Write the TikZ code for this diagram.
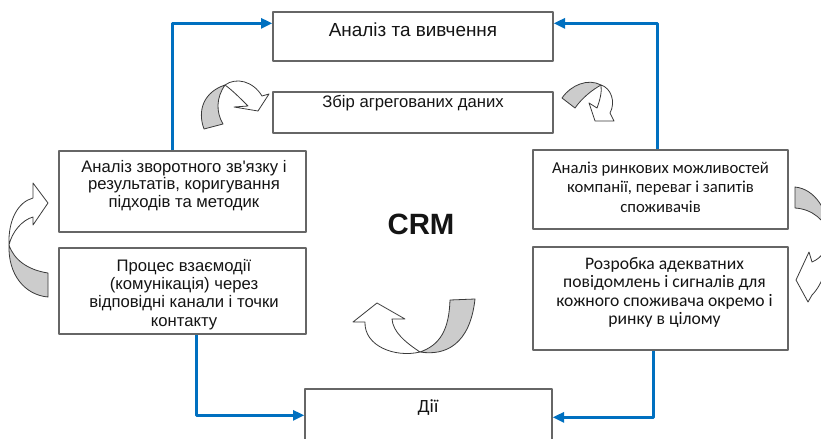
\documentclass[tikz,border=0pt]{standalone}
\usepackage{fontspec}
\setmainfont{Liberation Sans}
\newfontfamily\calibfont{Carlito}
\usepackage{tikz}
\usetikzlibrary{arrows.meta,calc}
\definecolor{crmblue}{HTML}{0070C0}
\definecolor{crmink}{HTML}{141414}
\definecolor{crmedge}{HTML}{666666}
\definecolor{crmgray}{HTML}{CCCCCC}
\definecolor{crmline}{HTML}{3A3A3A}

\begin{document}
\begin{tikzpicture}[x=0.75pt,y=-0.75pt,line cap=round,line join=round,
  font=\fontsize{12.5}{13.5}\selectfont,text=crmink,
  frame/.style={draw=crmedge,line width=1pt,fill=white,inner sep=0pt},
  boxtxt/.style={align=center,inner sep=0pt},
  flow/.style={crmblue,line width=2pt,line cap=butt,-{Triangle[length=8.5pt,width=7.5pt]}},
  backside/.style={fill=crmgray,draw=crmline,line width=0.6pt},
  frontside/.style={fill=white,draw=crmline,line width=0.6pt}]
\path[use as bounding box] (0,0) rectangle (821,439);
\fill[white] (0,0) rectangle (821,439);
\clip (0,0) rectangle (821,439);
% блоки циклу
\node[frame,minimum width=210pt,minimum height=36.75pt] (top) at (413,36.5) {};
\node[frame,minimum width=210pt,minimum height=30.75pt] (zbir) at (413,112.5) {};
\node[frame,minimum width=185.25pt,minimum height=60.75pt] (lfb) at (182.5,191.5) {};
\node[frame,minimum width=185.25pt,minimum height=64.5pt] (lcom) at (182.5,291) {};
\node[frame,minimum width=191.25pt,minimum height=59.25pt] (rmkt) at (660.5,189.5) {};
\node[frame,minimum width=191.25pt,minimum height=77.25pt] (rmsg) at (660.5,298.5) {};
\node[frame,minimum width=185.25pt,minimum height=53.25pt] (act) at (428.5,424.5) {};
% тексти
\node[boxtxt,font=\fontsize{14.2}{15}\selectfont] (top-t) at (413,30) {Аналіз та вивчення};
\node[boxtxt] (zbir-t) at (413,103) {Збір агрегованих даних};
\node[boxtxt,font=\fontsize{12.5}{13}\selectfont] (lfb-t) at (184,185.5)
  {Аналіз зворотного зв\textquotesingle язку і\\результатів, коригування\\підходів та методик};
\node[boxtxt,font=\fontsize{12.5}{13.7}\selectfont] (lcom-t) at (184,294.5)
  {Процес взаємодії\\(комунікація) через\\відповідні канали і точки\\контакту};
\node[boxtxt,font=\calibfont\fontsize{12.5}{14.6}\selectfont] (rmkt-t) at (660.5,187)
  {Аналіз ринкових можливостей\\компанії, переваг і запитів\\споживачів};
\node[boxtxt,font=\calibfont\fontsize{13.2}{13.7}\selectfont] (rmsg-t) at (664.5,292.5)
  {Розробка адекватних\\повідомлень і сигналів для\\кожного споживача окремо і\\ринку в цілому};
\node[boxtxt,font=\calibfont\fontsize{14}{16}\selectfont] (act-t) at (428,408) {Дії};
\node[boxtxt,font=\bfseries\fontsize{22}{24}\selectfont] (crm) at (421,224) {CRM};
% сині зв'язки
\draw[flow] ($(lfb.north)+(-10,0)$) |- ($(top.north west)+(0,12)$);
\draw[flow] ($(rmkt.north)+(-3,0)$) |- ($(top.north east)+(0,12)$);
\draw[flow] ($(lcom.south)+(14,0)$) |- ($(act.north west)+(0,27)$);
\draw[flow] ($(rmsg.south)+(-7,0)$) |- ($(act.north east)+(0,29)$);
% вигнуті стрілки
\draw[backside] (204,129) .. controls (197,110) and (204,92) .. (225,85)
  .. controls (216,98) and (216,112) .. (223,124) -- cycle;
\draw[frontside] (225,85) .. controls (236,77) and (253,81) .. (262,96) -- (269,94)
  -- (258,111) -- (234,107) -- (248,106) .. controls (240,98) and (232,90) .. (225,85) -- cycle;
\draw[backside] (562,98) .. controls (571,85) and (588,78) .. (601,85)
  .. controls (592,90) and (582,98) .. (575,108) -- cycle;
\draw[frontside] (601,85) .. controls (611,88) and (616,102) .. (610,113) -- (614,121)
  -- (595,121) -- (589,103) -- (597,108) .. controls (600,100) and (602,92) .. (601,85) -- cycle;
\draw[backside] (795,187) .. controls (815,189) and (828,210) .. (830,235)
  .. controls (825,220) and (812,209) .. (795,208) -- cycle;
\draw[frontside] (830,235) .. controls (830,265) and (822,285) .. (812,295) -- (808,302)
  -- (796,280) -- (809,252) -- (812,262) .. controls (822,258) and (828,248) .. (830,235) -- cycle;
\draw[backside] (48,273) .. controls (28,270) and (14,260) .. (9,245)
  .. controls (8,275) and (25,295) .. (48,297) -- cycle;
\draw[frontside] (9,245) .. controls (8,220) and (18,202) .. (33,198) -- (33,183)
  -- (48,203) -- (33,225) -- (33,217) .. controls (22,220) and (12,232) .. (9,245) -- cycle;
\draw[backside] (450,300) .. controls (449,330) and (440,345) .. (420,352)
  .. controls (445,356) and (470,345) .. (475,299) -- cycle;
\draw[frontside] (420,352) .. controls (395,358) and (364,346) .. (365,322) -- (353,322)
  -- (377,303) -- (405,319) -- (392,319) .. controls (393,332) and (405,342) .. (420,352) -- cycle;
\end{tikzpicture}
\end{document}
